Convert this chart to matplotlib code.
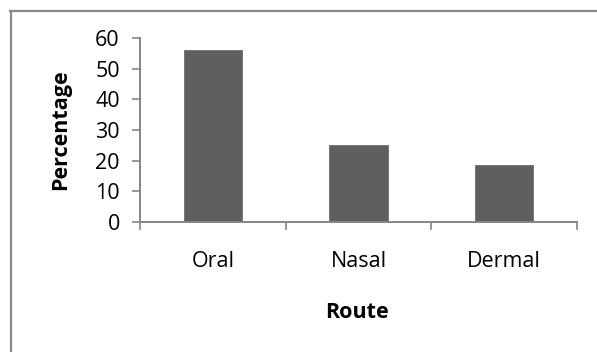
import matplotlib
matplotlib.use("Agg")
import matplotlib.pyplot as plt
from matplotlib.lines import Line2D

routes = ["Oral", "Nasal", "Dermal"]
percentages = [56.25, 25.0, 18.75]
y_ticks = [0, 10, 20, 30, 40, 50, 60]

W, H = 597, 352
plt.rcParams["font.family"] = ["Open Sans", "DejaVu Sans"]
FS = 15.5

fig = plt.figure(figsize=(W / 100, H / 100), dpi=100)
ax = fig.add_axes([140 / W, 1 - 222 / H, (577 - 140) / W, (222 - 38) / H])

axis_color = "#868686"
x = list(range(len(routes)))
ax.bar(x, percentages, width=0.4, color="#5f5f5f", edgecolor="#6e6e6e", linewidth=0.6, zorder=2)

ax.set_xlim(-0.5, len(routes) - 0.5)
ax.set_ylim(0, 60)
ax.set_yticks(y_ticks)
ax.set_yticklabels([str(t) for t in y_ticks], fontsize=FS, color="black")

# category boundaries carry the tick marks; labels sit at the category centres
ax.set_xticks([i - 0.5 for i in range(len(routes) + 1)])
ax.set_xticklabels([])
ax.set_xticks(x, minor=True)
ax.set_xticklabels(routes, minor=True, fontsize=FS)
ax.tick_params(axis="x", which="minor", length=0, pad=21)
ax.tick_params(axis="x", which="major", length=6, width=1.2, color=axis_color, direction="out")
ax.tick_params(axis="y", length=5.5, width=1.2, color=axis_color, direction="out", pad=9)

for side in ("top", "right"):
    ax.spines[side].set_visible(False)
for side in ("left", "bottom"):
    ax.spines[side].set_color(axis_color)
    ax.spines[side].set_linewidth(1.4)

fig.text(61 / W, 1 - 130 / H, "Percentage", rotation=90, ha="center", va="center",
         fontsize=FS, fontweight="bold")
fig.text(357 / W, 1 - 312 / H, "Route", ha="center", va="center",
         fontsize=FS, fontweight="bold")

# chart-area frame
fig.add_artist(Line2D([10.5 / W, 10.5 / W], [0, 1 - 11 / H], transform=fig.transFigure,
                      color="#888888", linewidth=1.6))
fig.add_artist(Line2D([10 / W, 1], [1 - 11 / H, 1 - 11 / H], transform=fig.transFigure,
                      color="#888888", linewidth=1.6))

fig.savefig("out.png", dpi=100, facecolor="white")
